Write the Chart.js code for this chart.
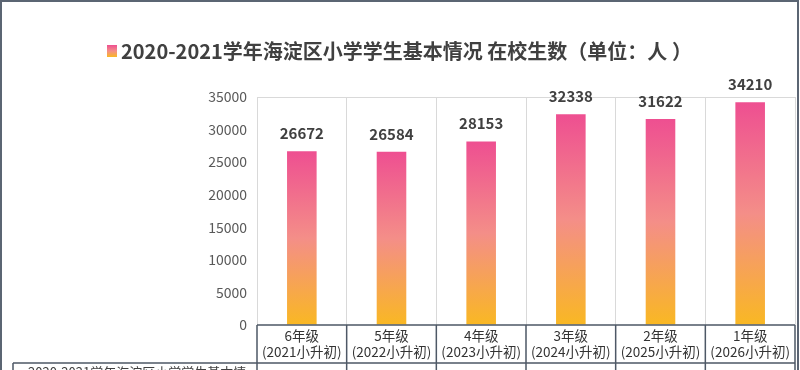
<!DOCTYPE html>
<html>
<head>
<meta charset="utf-8">
<script src="https://cdn.jsdelivr.net/npm/chart.js@4"></script>
<style>
  html, body { margin: 0; padding: 0; background: #fff; }
  #wrap { width: 800px; height: 370px; position: relative; }
</style>
</head>
<body>
<div id="wrap"><canvas id="chart" width="800" height="370"></canvas></div>
<script>
// --- data ---
const grades = ['6年级', '5年级', '4年级', '3年级', '2年级', '1年级'];
const exitYears = ['(2021小升初)', '(2022小升初)', '(2023小升初)', '(2024小升初)', '(2025小升初)', '(2026小升初)'];
const students = [26672, 26584, 28153, 32338, 31622, 34210];
const yTicks = [0, 5000, 10000, 15000, 20000, 25000, 30000, 35000];
const seriesName = '2020-2021学年海淀区小学学生基本情况 在校生数（单位：人 ）';

const FONT = "'Noto Sans CJK SC', 'Noto Sans', sans-serif";
const tableColor = '#4e5866';

function barGradient(c, top, bottom) {
    const g = c.createLinearGradient(0, top, 0, bottom);
    g.addColorStop(0, '#ee4f91');
    g.addColorStop(0.5, '#f48e88');
    g.addColorStop(1, '#f9b823');
    return g;
}

// title, value labels, data table lines, outer frame
const extras = {
    id: 'extras',
    afterDraw(chart) {
        const c = chart.ctx;
        const area = chart.chartArea;
        c.save();

        // title with legend key
        c.fillStyle = barGradient(c, 45, 57);
        c.fillRect(107, 45, 10, 12);
        c.fillStyle = '#404040';
        c.font = 'bold 20px ' + FONT;
        c.textBaseline = 'middle';
        c.textAlign = 'left';
        c.fillText(seriesName, 121, 51);

        // value labels
        c.font = 'bold 15px ' + FONT;
        c.textAlign = 'center';
        chart.getDatasetMeta(0).data.forEach((bar, i) => {
            c.fillText(String(students[i]), bar.x, bar.y - 18);
        });

        // data table
        c.strokeStyle = tableColor;
        c.lineWidth = 1.5;
        const colW = (area.right - area.left) / grades.length;
        c.beginPath();
        c.moveTo(area.left, area.bottom);
        c.lineTo(area.right, area.bottom);
        c.moveTo(13, 363);
        c.lineTo(area.right, 363);
        for (let i = 0; i <= grades.length; i++) {
            const lx = area.left + colW * i;
            c.moveTo(lx, area.bottom);
            c.lineTo(lx, 372);
        }
        c.moveTo(13, 363);
        c.lineTo(13, 372);
        c.stroke();

        c.fillStyle = '#404040';
        c.font = '13px ' + FONT;
        c.textAlign = 'left';
        c.textBaseline = 'top';
        c.fillText('2020-2021学年海淀区小学学生基本情…', 28, 366);

        // outer frame
        c.strokeStyle = '#5b6573';
        c.lineWidth = 2;
        c.strokeRect(1, 1, 797, 372);
        c.restore();
    }
};

new Chart(document.getElementById('chart'), {
    type: 'bar',
    data: {
        labels: grades.map((g, i) => [g, exitYears[i]]),
        datasets: [{
            label: seriesName,
            data: students,
            backgroundColor: function (ctx) {
                const chart = ctx.chart;
                if (!chart.chartArea) return '#f48e88';
                const y = chart.scales.y;
                return barGradient(chart.ctx, y.getPixelForValue(ctx.raw), y.getPixelForValue(0));
            },
            barPercentage: 0.33,
            categoryPercentage: 1
        }]
    },
    options: {
        responsive: false,
        animation: false,
        layout: { padding: { top: 97, right: 5, left: 0, bottom: 0 } },
        plugins: {
            legend: { display: false },
            title: { display: false },
            tooltip: { enabled: false }
        },
        scales: {
            x: {
                afterFit(axis) { axis.height = 45; },
                grid: { color: '#d9d9d9', offset: true, drawTicks: false, lineWidth: 1 },
                border: { display: false },
                ticks: {
                    color: '#333333',
                    font: { family: FONT, size: 13.5 },
                    padding: 3,
                    maxRotation: 0
                }
            },
            y: {
                min: 0,
                max: 35000,
                afterFit(axis) { axis.width = 257; },
                afterBuildTicks(axis) { axis.ticks = yTicks.map(v => ({ value: v })); },
                grid: {
                    drawTicks: false,
                    color: ctx => ctx.tick && ctx.tick.value === 35000 ? '#d9d9d9' : 'rgba(0,0,0,0)'
                },
                border: { display: false },
                ticks: {
                    color: '#595959',
                    font: { family: FONT, size: 14 },
                    padding: 10,
                    callback: v => String(v)
                }
            }
        }
    },
    plugins: [extras]
});
</script>
</body>
</html>
